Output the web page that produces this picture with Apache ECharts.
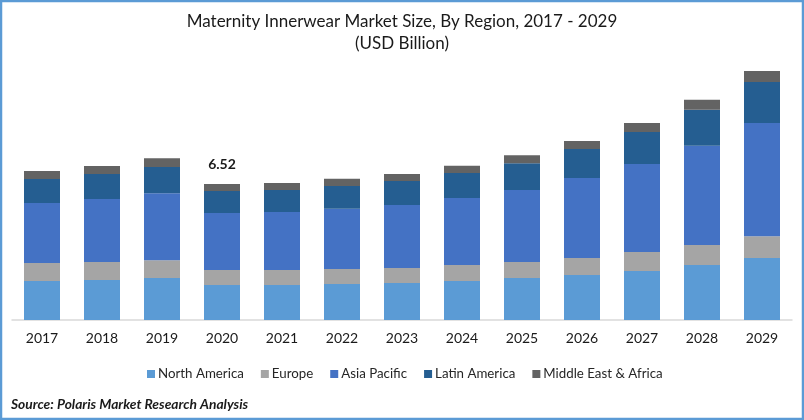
<!DOCTYPE html>
<html><head><meta charset="utf-8">
<style>
html,body{margin:0;padding:0;background:#fff;width:804px;height:420px;overflow:hidden}
#c{width:804px;height:420px}
</style>
<script src="https://cdn.jsdelivr.net/npm/echarts@6/dist/echarts.min.js"></script>
</head><body><div id="c"></div>
<script>
const categories=['2017','2018','2019','2020','2021','2022','2023','2024','2025','2026','2027','2028','2029'];
const northAmerica=[1.87,1.92,2.01,1.68,1.68,1.73,1.77,1.87,2.01,2.16,2.35,2.64,2.97];
const europe=[0.86,0.86,0.86,0.72,0.72,0.72,0.72,0.77,0.77,0.81,0.91,0.96,1.05];
const asiaPacific=[2.88,3.02,3.21,2.73,2.78,2.88,3.02,3.21,3.45,3.84,4.22,4.75,5.42];
const latinAmerica=[1.15,1.20,1.25,1.05,1.05,1.10,1.15,1.20,1.29,1.39,1.53,1.73,1.97];
const middleEastAfrica=[0.38,0.38,0.43,0.34,0.34,0.34,0.34,0.34,0.38,0.38,0.43,0.48,0.53];
const totalLabels={'2020':'6.52'};
const names=['North America','Europe','Asia Pacific','Latin America','Middle East & Africa'];
const colors=['#5B9BD5','#A5A5A5','#4472C4','#255E91','#636363'];
const values=[northAmerica,europe,asiaPacific,latinAmerica,middleEastAfrica];
const font='Lato';
const chart=echarts.init(document.getElementById('c'),null,{renderer:'canvas'});
chart.setOption({
 animation:false,
 textStyle:{fontFamily:font},
 title:{text:'Maternity Innerwear Market Size, By Region, 2017 - 2029\n(USD Billion)',left:'center',top:6,
  textStyle:{fontFamily:font,fontSize:17,fontWeight:'normal',color:'#1a1a1a',lineHeight:22}},
 legend:{data:names,bottom:34.5,left:142,itemWidth:8,itemHeight:8,itemGap:17,icon:'rect',
  textStyle:{fontFamily:font,fontSize:13.3,color:'#262626',padding:[0,0,0,-2]}},
 grid:{left:12,right:12,top:69.7,bottom:100,containLabel:false},
 xAxis:{type:'category',data:categories,axisTick:{show:false},
  axisLine:{lineStyle:{color:'#D9D9D9',width:1.5}},
  axisLabel:{fontFamily:font,fontSize:14,color:'#1a1a1a',margin:11}},
 yAxis:{type:'value',min:0,max:12,show:false,splitLine:{show:false}},
 series:values.map((v,i)=>({
  name:names[i],type:'bar',stack:'total',data:v,barWidth:36,
  itemStyle:{color:colors[i]},
  label:i===4?{show:true,position:'top',distance:13,fontFamily:font,fontSize:14,fontWeight:'bold',color:'#1a1a1a',
    formatter:p=>totalLabels[p.name]||''}:{show:false}
 })),
 graphic:[
  {type:'rect',silent:true,shape:{x:1,y:1,width:802,height:418},style:{fill:'none',stroke:'#5B9BD5',lineWidth:2.5}},
  {type:'text',left:11,top:397.5,style:{text:'Source: Polaris Market Research Analysis',fontFamily:font,fontSize:13.8,fontWeight:'bold',fontStyle:'italic',fill:'#1a1a1a'}}
 ]
});
</script></body></html>
